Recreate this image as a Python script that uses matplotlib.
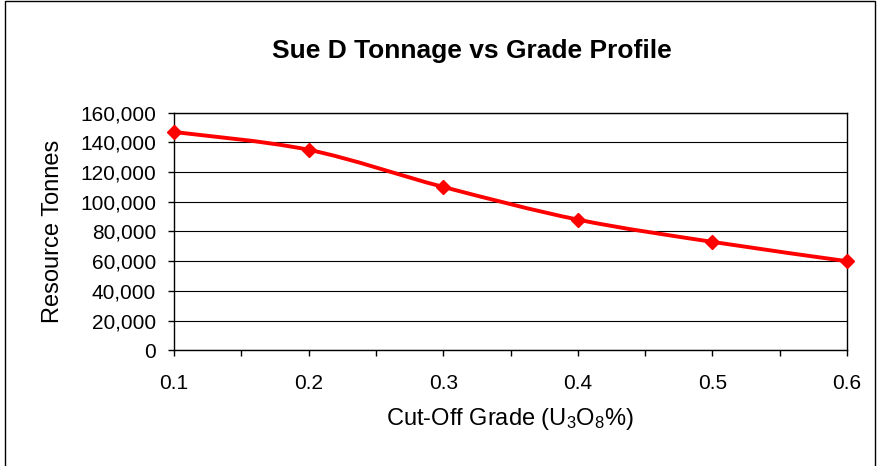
import matplotlib
matplotlib.use("Agg")
import matplotlib.pyplot as plt
import numpy as np
from matplotlib.path import Path
from matplotlib.patches import PathPatch, Rectangle
from matplotlib.ticker import MultipleLocator, StrMethodFormatter

plt.rcParams['font.family'] = ['Liberation Sans', 'DejaVu Sans']
plt.rcParams['mathtext.fontset'] = 'custom'
plt.rcParams['mathtext.rm'] = 'Liberation Sans'
plt.rcParams['mathtext.default'] = 'rm'

# cut-off grade (U3O8 %) and resource tonnes
grade = [0.1, 0.2, 0.3, 0.4, 0.5, 0.6]
tonnes = [147000, 135000, 110000, 88000, 73000, 60000]

title = "Sue D Tonnage vs Grade Profile"
xlabel = "Cut-Off Grade (U$_3$O$_8$%)"
ylabel = "Resource Tonnes"


def smooth_path(x, y):
    # spreadsheet-style smoothed line: cubic bezier through each point
    pts = np.column_stack([x, y]).astype(float)
    n = len(pts)
    verts = [pts[0]]
    codes = [Path.MOVETO]
    for i in range(n - 1):
        p0 = pts[max(i - 1, 0)]
        p1 = pts[i]
        p2 = pts[i + 1]
        p3 = pts[min(i + 2, n - 1)]
        c1 = p1 + (p2 - p0) / 6.0
        c2 = p2 - (p3 - p1) / 6.0
        verts += [c1, c2, p2]
        codes += [Path.CURVE4] * 3
    return Path(verts, codes)


fig = plt.figure(figsize=(8.78, 4.66), dpi=100)
ax = fig.add_axes([0.1982, 0.2483, 0.7665, 0.5099])

ax.add_patch(PathPatch(smooth_path(grade, tonnes), facecolor='none',
                       edgecolor='#ff0000', lw=2.8, zorder=3))
ax.plot(grade, tonnes, linestyle='none', marker='D', ms=7,
        color='#ff0000', zorder=4, clip_on=False)

ax.set_xlim(0.1, 0.6)
ax.set_ylim(0, 160000)
ax.xaxis.set_major_locator(MultipleLocator(0.1))
ax.xaxis.set_minor_locator(MultipleLocator(0.05))
ax.xaxis.set_major_formatter(StrMethodFormatter('{x:.1f}'))
ax.yaxis.set_major_locator(MultipleLocator(20000))
ax.yaxis.set_major_formatter(StrMethodFormatter('{x:,.0f}'))

ax.grid(axis='y', color='black', lw=0.8)
ax.set_axisbelow(True)
for s in ax.spines.values():
    s.set_color('black')
    s.set_linewidth(1.0)

ax.tick_params(axis='y', direction='out', length=4, width=1, pad=9,
               labelsize=15)
ax.tick_params(axis='x', which='both', direction='out', length=4, width=1,
               pad=13, labelsize=15)

fig.text(472 / 878, 1 - 51 / 466, title, fontsize=19, fontweight='bold',
         ha='center', va='center')
fig.text(510 / 878, 1 - 419 / 466, xlabel, fontsize=17,
         ha='center', va='center')
fig.text(53 / 878, 1 - 231 / 466, ylabel, fontsize=17, rotation=90,
         ha='center', va='center')

# outer chart border
fig.patches.append(Rectangle((5 / 878, -0.05), 870 / 878, 1.047,
                             transform=fig.transFigure, fill=False,
                             edgecolor='black', lw=1.0))

fig.savefig('out.png', dpi=100)
